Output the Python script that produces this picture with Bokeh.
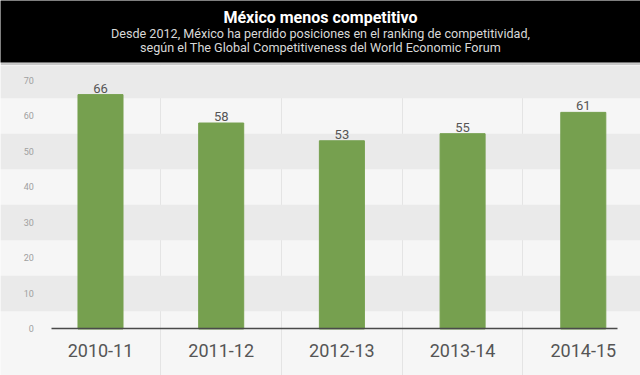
from bokeh.plotting import figure
from bokeh.models import (ColumnDataSource, Range1d, FixedTicker, Grid, Label)
from bokeh.layouts import column
from bokeh.core.properties import value
from bokeh.embed import file_html
from bokeh.resources import INLINE

# ---- data ----
categories = ["2010-11", "2011-12", "2012-13", "2013-14", "2014-15"]
ranking = [66, 58, 53, 55, 61]
y_ticks = [0, 10, 20, 30, 40, 50, 60, 70]
title_text = "México menos competitivo"
subtitle_lines = [
    "Desde 2012, México ha perdido posiciones en el ranking de competitividad,",
    "según el The Global Competitiveness del World Economic Forum",
]

FONT = "Roboto"
BAR = "#76a04f"

# ---- header ----
h = figure(width=640, height=65, x_range=Range1d(0, 640), y_range=Range1d(0, 62),
           output_backend="svg", toolbar_location=None,
           min_border_left=0, min_border_right=0, min_border_top=0, min_border_bottom=3)
h.axis.visible = False
h.grid.visible = False
h.outline_line_color = None
h.background_fill_color = "#000000"
h.border_fill_color = "#c8c8c8"
h.add_layout(Label(x=320, y=62 - 17, text=title_text, text_align="center",
                   text_baseline="middle", text_color="#ffffff",
                   text_font=FONT, text_font_style="bold",
                   text_font_size="16px"))
for i, line in enumerate(subtitle_lines):
    h.add_layout(Label(x=320, y=62 - 33 - 14 * i, text=line, text_align="center",
                       text_baseline="middle", text_color="#d8d8d8",
                       text_font=FONT, text_font_size="12.6px"))

# ---- main chart ----
xs = list(range(len(categories)))
src = ColumnDataSource(dict(x=xs, y=ranking, label=[str(v) for v in ranking]))

p = figure(width=640, height=310, x_range=Range1d(-0.8285, 4.474),
           y_range=Range1d(-13.1, 74.2), output_backend="svg", toolbar_location=None,
           min_border_left=0, min_border_right=0, min_border_top=0,
           min_border_bottom=0)
p.outline_line_color = None
p.background_fill_color = "#f6f6f6"
p.border_fill_color = "#f4f4f4"

p.vbar(x="x", top="y", width=0.373, bottom=0, source=src, color=BAR)
p.text(x="x", y="y", text="label", source=src, text_align="center",
       text_baseline="bottom", y_offset=-2, text_color="#555555",
       text_font=value(FONT), text_font_size="13px")

# grids
p.ygrid.visible = False
p.xgrid.ticker = FixedTicker(ticks=[0.5, 1.5, 2.5, 3.5])
p.xgrid.grid_line_color = "#e4e4e4"
band_grid = Grid(dimension=1, ticker=FixedTicker(ticks=[5, 15, 25, 35, 45, 55, 65, 75]),
                 grid_line_color=None, band_fill_color="#eaeaea", band_fill_alpha=1.0)
p.add_layout(band_grid, "center")

# x axis
xa = p.xaxis[0]
xa.ticker = FixedTicker(ticks=xs)
xa.fixed_location = 0
xa.major_label_overrides = {i: c for i, c in enumerate(categories)}
xa.bounds = (-0.406, 4.283)
xa.axis_line_color = "#4a4a4a"
xa.axis_line_width = 1.5
xa.major_tick_line_color = None
xa.minor_tick_line_color = None
xa.major_label_standoff = 9
xa.major_label_text_font = FONT
xa.major_label_text_font_size = "18px"
xa.major_label_text_color = "#555555"

# y axis
ya = p.yaxis[0]
ya.ticker = FixedTicker(ticks=y_ticks)
ya.fixed_location = -0.486
ya.axis_line_color = None
ya.major_tick_line_color = None
ya.minor_tick_line_color = None
ya.major_label_standoff = 2
ya.major_label_text_font = FONT
ya.major_label_text_font_size = "9px"
ya.major_label_text_color = "#a0a0a0"

layout = column(h, p, spacing=0)
open("out.html", "w").write(file_html(layout, INLINE))
